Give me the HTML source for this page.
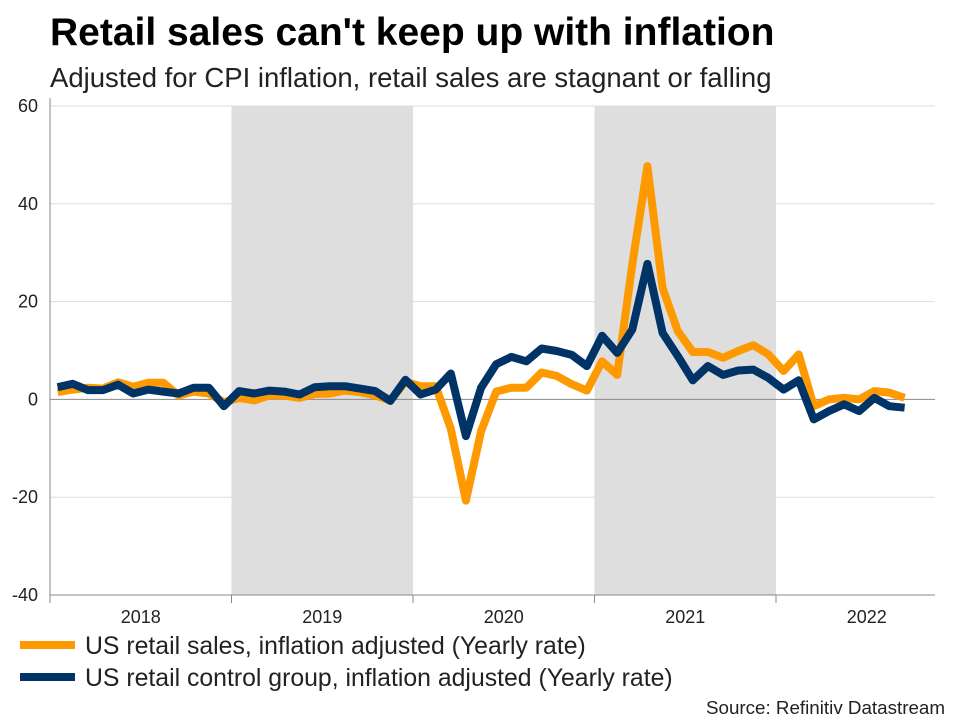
<!DOCTYPE html>
<html><head><meta charset="utf-8"><style>
body{margin:0;background:#fff;font-family:"Liberation Sans",sans-serif;}
svg{display:block}
</style></head><body>
<svg width="960" height="720" xmlns="http://www.w3.org/2000/svg" id="chart">
<text x="50" y="45" font-size="39" font-weight="bold" fill="#000">Retail sales can't keep up with inflation</text>
<text x="50" y="87" font-size="27.5" fill="#222">Adjusted for CPI inflation, retail sales are stagnant or falling</text>
<g id="shade"></g><g id="grid"></g><g id="axes"></g><g id="lines"></g>
<g>
<line x1="20" y1="645" x2="75" y2="645" stroke="#FF9900" stroke-width="8"/>
<text x="85" y="654" font-size="24.8" fill="#222">US retail sales, inflation adjusted (Yearly rate)</text>
<line x1="20" y1="677" x2="75" y2="677" stroke="#003366" stroke-width="8"/>
<text x="85" y="686" font-size="24.8" fill="#222">US retail control group, inflation adjusted (Yearly rate)</text>
</g>
<text x="945" y="714" font-size="18.8" fill="#222" text-anchor="end">Source: Refinitiv Datastream</text>
</svg>
<script>
const years = ["2018","2019","2020","2021","2022"];
const yTicks = [60,40,20,0,-20,-40];
const shadedYears = [1,3];
const retailSales = [1.5,2,2.4,2.2,3.5,2.6,3.4,3.4,0.8,1.6,1.2,-0.6,0.3,-0.2,0.8,0.8,0.3,1.1,1.2,1.8,1.5,0.8,-0.2,3.6,2.7,2.7,-6,-20.7,-6.5,1.6,2.4,2.4,5.5,4.8,3.1,1.8,7.8,5,27.6,47.7,22.8,14,9.7,9.7,8.5,9.9,11.1,9.2,5.8,9.2,-1.4,0,0.3,0,1.7,1.4,0.3];
const controlGroup = [2.5,3.2,1.9,1.9,3,1.2,2,1.6,1.2,2.4,2.4,-1.4,1.7,1.2,1.8,1.6,1,2.5,2.7,2.7,2.2,1.7,-0.3,4,1,2,5.3,-7.5,2.4,7.2,8.7,7.8,10.4,9.9,9.1,6.8,13,9.5,14.3,27.7,13.6,8.9,3.9,6.8,5,5.9,6.1,4.4,2,3.9,-4.1,-2.4,-1,-2.4,0.3,-1.4,-1.7];
const X0=50,X1=935,YT=106,YB=595,yearW=181.5,monthW=yearW/12;
const xM=i=>X0+monthW*(i+0.5);
const yV=v=>YB-(v+40)/100*(YB-YT);
const NS="http://www.w3.org/2000/svg";
function mk(tag,attrs,parent){const e=document.createElementNS(NS,tag);for(const k in attrs)e.setAttribute(k,attrs[k]);document.getElementById(parent).appendChild(e);return e;}
shadedYears.forEach(y=>{
 const r=mk('rect',{x:X0+y*yearW,y:YT,width:yearW,height:YB-YT,fill:'#dedede'},'shade');
 
 
});
yTicks.forEach(t=>{
 const l=mk('line',{x1:X0,x2:X1,y1:yV(t),y2:yV(t),stroke:t===0?'#888':'#ddd','stroke-width':1},'grid');
 
 
 const tx=mk('text',{x:38,y:yV(t)+6,'font-size':18,'text-anchor':'end',fill:'#222'},'axes');
 tx.textContent=t;
 
 
});
const ya=mk('line',{x1:X0,x2:X0,y1:YT-8,y2:YB,stroke:'#888'},'axes');


const xa=mk('line',{x1:X0,x2:X1,y1:YB,y2:YB,stroke:'#888'},'axes');


years.forEach((yr,i)=>{
 const tk=mk('line',{x1:X0+i*yearW,x2:X0+i*yearW,y1:YB,y2:YB+8,stroke:'#888'},'axes');
 
 
 const tx=mk('text',{x:X0+(i+0.5)*yearW,y:YB+28,'font-size':18,'text-anchor':'middle',fill:'#222'},'axes');
 tx.textContent=yr;
 
 
});
function series(vals,color,name){
 const d=vals.map((v,i)=>(i?'L':'M')+xM(i).toFixed(1)+' '+yV(v).toFixed(1)).join(' ');
 const p=mk('path',{d:d,fill:'none',stroke:color,'stroke-width':8,'stroke-linejoin':'round'},'lines');
 
 
}
series(retailSales,'#FF9900','line-retail-sales');
series(controlGroup,'#003366','line-control-group');
</script>
</body></html>
